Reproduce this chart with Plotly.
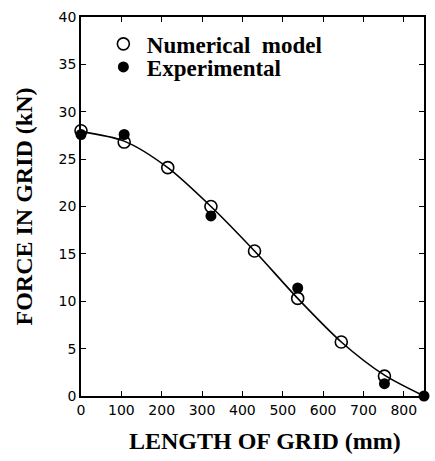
import plotly.graph_objects as go

# Data
model_x = [0, 107, 215, 322, 430, 537, 645, 752]
model_y = [28.0, 26.8, 24.1, 20.0, 15.3, 10.3, 5.7, 2.1]

exp_x = [0, 107, 322, 537, 752, 850]
exp_y = [27.6, 27.6, 19.0, 11.4, 1.3, 0.0]

curve_x = [0, 107, 215, 322, 430, 537, 645, 752, 850]
curve_y = [27.9, 26.9, 24.1, 20.0, 15.3, 10.3, 5.7, 2.2, 0.0]

x_ticks = [0, 100, 200, 300, 400, 500, 600, 700, 800]
y_ticks = [0, 5, 10, 15, 20, 25, 30, 35, 40]

fig = go.Figure()
fig.add_trace(go.Scatter(x=curve_x, y=curve_y, mode="lines",
                         line=dict(color="black", width=1.6, shape="spline", smoothing=0.8),
                         showlegend=False, hoverinfo="skip"))
fig.add_trace(go.Scatter(x=model_x, y=model_y, mode="markers", name="Numerical \u00a0model",
                         marker=dict(symbol="circle-open", size=12, color="black",
                                     line=dict(width=1.6, color="black")),
                         cliponaxis=False, legend="legend"))
fig.add_trace(go.Scatter(x=exp_x, y=exp_y, mode="markers", name="Experimental",
                         marker=dict(symbol="circle", size=11, color="black"),
                         cliponaxis=False, legend="legend2"))

axis_common = dict(showline=True, linecolor="black", linewidth=1.6, mirror="ticks",
                   ticks="inside", ticklen=5, tickwidth=1.2, tickcolor="black",
                   showgrid=False, zeroline=False,
                   tickfont=dict(family="DejaVu Sans, Arial", size=14, color="black"))

title_font = dict(family="Liberation Serif, Times New Roman", color="black", weight="bold")

fig.update_xaxes(range=[0, 850], tickvals=x_ticks, ticktext=[str(v) for v in x_ticks],
                 **axis_common)
fig.update_yaxes(range=[0, 40], tickvals=y_ticks, ticktext=[str(v) for v in y_ticks],
                 title=dict(text="FORCE IN GRID (kN)", standoff=19,
                            font=dict(size=24, **title_font)),
                 **axis_common)

# x-axis title (placed slightly right of centre, as in the original)
fig.add_annotation(text="LENGTH OF GRID (mm)", xref="paper", yref="paper",
                   x=0.536, y=-0.118, xanchor="center", yanchor="middle",
                   showarrow=False, font=dict(size=24, **title_font))

leg_font = dict(family="Liberation Serif, Times New Roman", size=23, color="black", weight="bold")
fig.update_layout(
    width=435, height=461,
    margin=dict(l=81, r=9, t=16, b=65),
    paper_bgcolor="white", plot_bgcolor="white",
    legend=dict(x=0.055, y=0.929, xanchor="left", yanchor="middle",
                bgcolor="rgba(0,0,0,0)", itemwidth=37, font=leg_font),
    legend2=dict(x=0.055, y=0.868, xanchor="left", yanchor="middle",
                 bgcolor="rgba(0,0,0,0)", itemwidth=37, font=leg_font),
)

fig.write_html("out.html")
